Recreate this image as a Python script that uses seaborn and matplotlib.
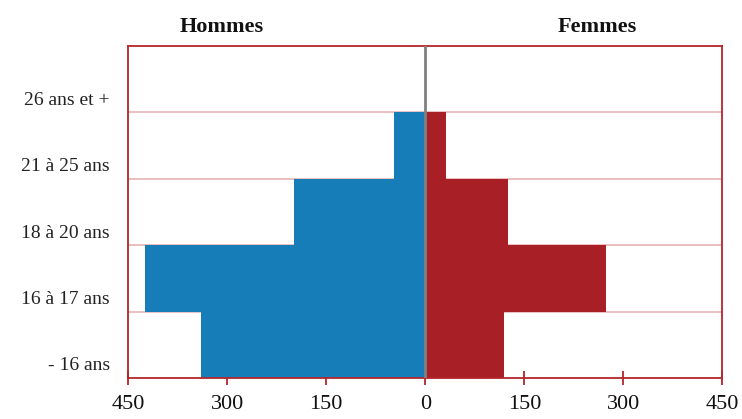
import pandas as pd
import numpy as np
import matplotlib.pyplot as plt
import matplotlib.transforms as mtransforms
import seaborn as sns

# age groups, top to bottom as shown
groupes = ['26 ans et +', '21 à 25 ans', '18 à 20 ans', '16 à 17 ans', '- 16 ans']
hommes = [0, 47, 198, 424, 339]
femmes = [0, 32, 125, 274, 119]
xticks = [-450, -300, -150, 0, 150, 300, 450]

df = pd.DataFrame({'Groupe': groupes * 2,
                   'Effectif': [-v for v in hommes] + femmes,
                   'Sexe': ['Hommes'] * len(groupes) + ['Femmes'] * len(groupes)})

sns.set_style('white')
plt.rcParams['font.family'] = ['Liberation Serif', 'DejaVu Serif']

rouge = '#b3262b'
fig = plt.figure(figsize=(7.42, 4.19), dpi=100)
ax = fig.add_axes([0.1725, 0.098, 0.8012, 0.792])

sns.barplot(data=df, x='Effectif', y='Groupe', hue='Sexe', order=groupes,
            palette={'Hommes': '#167db8', 'Femmes': '#a82025'},
            orient='h', width=1, dodge=False, legend=False, saturation=1,
            linewidth=0, ax=ax, zorder=2)

ax.set_xlim(-450, 450)
ax.set_ylim(len(groupes) - 0.5, -0.5)
ax.set_xticks(xticks)
ax.set_xticklabels([str(abs(t)) for t in xticks], fontsize=16, color='#111111')
ax.tick_params(axis='x', bottom=True, direction='inout', length=10, width=1.3,
               color=rouge, pad=7)
ax.set_xlabel('')
ax.set_ylabel('')

# category boundaries as gridlines
ax.set_yticks(np.arange(len(groupes) - 1) + 0.5, minor=True)
ax.grid(axis='y', which='minor', color='#e6b3b5', linewidth=1.2, zorder=1)
ax.grid(axis='y', which='major', visible=False)
ax.grid(axis='x', visible=False)
ax.tick_params(axis='y', which='both', left=False, length=0, labelsize=14, pad=13)
off = mtransforms.ScaledTranslation(0, -19 / 100, fig.dpi_scale_trans)
for lab in ax.get_yticklabels():
    lab.set_transform(lab.get_transform() + off)
    lab.set_color('#222222')

ax.axvline(0, color='#808080', linewidth=2, zorder=3)

for s in ax.spines.values():
    s.set_color(rouge)
    s.set_linewidth(1.3)
    s.set_visible(True)

fig.text(222 / 742, 1 - 27 / 419, 'Hommes', ha='center', va='center',
         fontsize=16, fontweight='bold', color='#111111')
fig.text(597 / 742, 1 - 27 / 419, 'Femmes', ha='center', va='center',
         fontsize=16, fontweight='bold', color='#111111')

fig.savefig('out.png', dpi=100)
